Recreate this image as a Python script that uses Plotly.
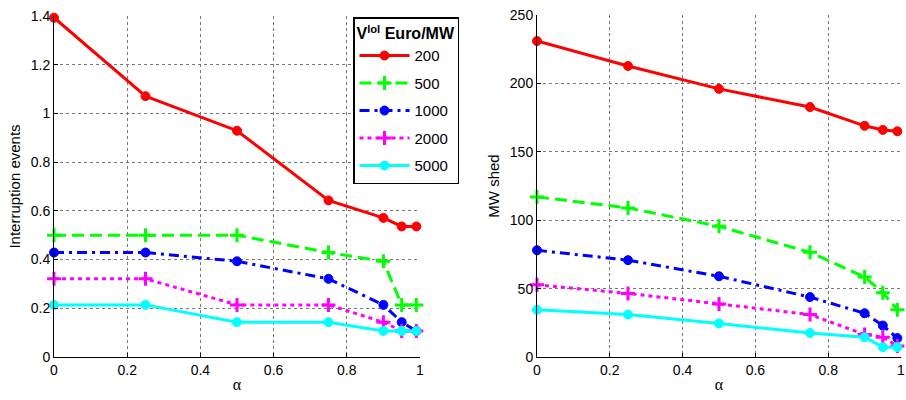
import plotly.graph_objects as go

alpha = [0, 0.25, 0.5, 0.75, 0.9, 0.95, 0.99]
labels = ["200", "500", "1000", "2000", "5000"]

interruptions = {
    "200":  [1.393, 1.071, 0.929, 0.643, 0.571, 0.536, 0.536],
    "500":  [0.500, 0.500, 0.500, 0.429, 0.393, 0.214, 0.214],
    "1000": [0.429, 0.429, 0.393, 0.321, 0.214, 0.143, 0.107],
    "2000": [0.321, 0.321, 0.214, 0.214, 0.143, 0.107, 0.107],
    "5000": [0.214, 0.214, 0.143, 0.143, 0.107, 0.107, 0.107],
}
mw_shed = {
    "200":  [231, 212.7, 196, 182.7, 169, 166, 165],
    "500":  [117, 109, 95.5, 76.5, 58.5, 47, 34.5],
    "1000": [78, 70.8, 59, 43.8, 32, 23, 13.8],
    "2000": [52.8, 46.5, 38.8, 31, 16.5, 14.5, 8],
    "5000": [34.5, 31, 24.5, 17.6, 14.4, 7.2, 7.2],
}

styles = {
    "200":  dict(color="#ff0000", dash="solid", symbol="circle"),
    "500":  dict(color="#00ff00", dash="12px,6px", symbol="cross-thin"),
    "1000": dict(color="#0000ff", dash="10px,5px,3px,5px", symbol="circle"),
    "2000": dict(color="#ff00ff", dash="4px,4px", symbol="cross-thin"),
    "5000": dict(color="#00ffff", dash="solid", symbol="circle"),
}

fig = go.Figure()
for k in labels:
    s = styles[k]
    mk = dict(symbol=s["symbol"], color=s["color"],
              size=9 if s["symbol"] == "circle" else 10,
              line=dict(color=s["color"], width=3 if s["symbol"] != "circle" else 1))
    fig.add_trace(go.Scatter(x=alpha, y=interruptions[k], mode="lines+markers",
                             name=k, line=dict(color=s["color"], width=3, dash=s["dash"]),
                             marker=mk, xaxis="x", yaxis="y", cliponaxis=False,
                             legendgroup=k))
    fig.add_trace(go.Scatter(x=alpha, y=mw_shed[k], mode="lines+markers",
                             name=k, line=dict(color=s["color"], width=3, dash=s["dash"]),
                             marker=mk, xaxis="x2", yaxis="y2", cliponaxis=False,
                             legendgroup=k, showlegend=False))

font = "Liberation Sans, Arial, Helvetica, sans-serif"
serif = "Liberation Serif, Times New Roman, serif"
axcommon = dict(showline=True, linecolor="black", linewidth=1, mirror=False,
                ticks="inside", ticklen=4, tickcolor="black", automargin=False,
                showgrid=True, gridcolor="#777777", griddash="dot", gridwidth=1,
                zeroline=False, tickfont=dict(size=14, color="black", family=font))

fig.update_layout(
    width=906, height=400,
    margin=dict(l=0, r=0, t=0, b=0, autoexpand=False),
    paper_bgcolor="white", plot_bgcolor="white",
    font=dict(family=font, color="black"),
    xaxis=dict(domain=[54/906, 420/906], range=[0, 1], dtick=0.2, tick0=0,
               title=dict(text="α", font=dict(size=16, family=serif), standoff=2),
               anchor="y", **axcommon),
    yaxis=dict(domain=[43/400, 384/400], range=[0, 1.4], dtick=0.2, tick0=0,
               title=dict(text="Interruption events", font=dict(size=15), standoff=6),
               anchor="x", **axcommon),
    xaxis2=dict(domain=[537/906, 901/906], range=[0, 1], dtick=0.2, tick0=0,
                title=dict(text="α", font=dict(size=16, family=serif), standoff=2),
                anchor="y2", **axcommon),
    yaxis2=dict(domain=[43/400, 385/400], range=[0, 250], dtick=50, tick0=0,
                title=dict(text="MW shed", font=dict(size=15), standoff=6),
                anchor="x2", **axcommon),
    legend=dict(x=353/906, y=(400-17)/400, xanchor="left", yanchor="top",
                bgcolor="white", bordercolor="black", borderwidth=1.5,
                font=dict(size=15, color="black", family=font),
                title=dict(text="<b>V<sup>lol</sup> Euro/MW</b>", font=dict(size=16, family=font)),
                itemwidth=50, tracegroupgap=5),
    showlegend=True,
)

fig.write_html("out.html")
